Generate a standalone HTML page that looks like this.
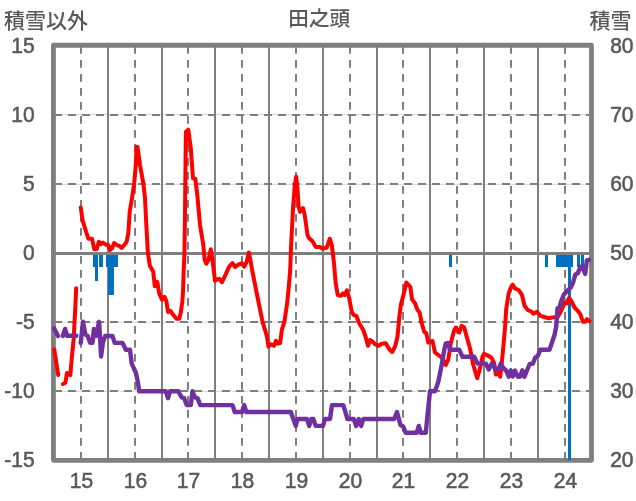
<!DOCTYPE html>
<html lang="ja"><head><meta charset="utf-8"><title>田之頭</title>
<style>html,body{margin:0;padding:0;background:#fff}svg{display:block}</style></head>
<body>
<svg width="636" height="501" viewBox="0 0 636 501">
<rect width="636" height="501" fill="#fff"/>
<line x1="53.43" x2="591.48" y1="114.5" y2="114.5" stroke="#d4d4d4" stroke-width="1"/>
<line x1="54" x2="591.48" y1="115" y2="115" stroke="#7f7f7f" stroke-width="2" stroke-dasharray="8 6"/>
<line x1="53.43" x2="591.48" y1="184.3" y2="184.3" stroke="#d4d4d4" stroke-width="1"/>
<line x1="54" x2="591.48" y1="184" y2="184" stroke="#7f7f7f" stroke-width="2" stroke-dasharray="8 6"/>
<line x1="53.43" x2="591.48" y1="322.3" y2="322.3" stroke="#d4d4d4" stroke-width="1"/>
<line x1="54" x2="591.48" y1="322" y2="322" stroke="#7f7f7f" stroke-width="2" stroke-dasharray="8 6"/>
<line x1="53.43" x2="591.48" y1="391.3" y2="391.3" stroke="#d4d4d4" stroke-width="1"/>
<line x1="54" x2="591.48" y1="391" y2="391" stroke="#7f7f7f" stroke-width="2" stroke-dasharray="8 6"/>
<line x1="81" x2="81" y1="46" y2="460.33" stroke="#7f7f7f" stroke-width="2" stroke-dasharray="7.8 6.2"/>
<line x1="108" x2="108" y1="45.25" y2="460.33" stroke="#7f7f7f" stroke-width="2"/>
<line x1="135" x2="135" y1="46" y2="460.33" stroke="#7f7f7f" stroke-width="2" stroke-dasharray="7.8 6.2"/>
<line x1="162" x2="162" y1="45.25" y2="460.33" stroke="#7f7f7f" stroke-width="2"/>
<line x1="188" x2="188" y1="46" y2="460.33" stroke="#7f7f7f" stroke-width="2" stroke-dasharray="7.8 6.2"/>
<line x1="215" x2="215" y1="45.25" y2="460.33" stroke="#7f7f7f" stroke-width="2"/>
<line x1="242" x2="242" y1="46" y2="460.33" stroke="#7f7f7f" stroke-width="2" stroke-dasharray="7.8 6.2"/>
<line x1="269" x2="269" y1="45.25" y2="460.33" stroke="#7f7f7f" stroke-width="2"/>
<line x1="296" x2="296" y1="46" y2="460.33" stroke="#7f7f7f" stroke-width="2" stroke-dasharray="7.8 6.2"/>
<line x1="323" x2="323" y1="45.25" y2="460.33" stroke="#7f7f7f" stroke-width="2"/>
<line x1="350" x2="350" y1="46" y2="460.33" stroke="#7f7f7f" stroke-width="2" stroke-dasharray="7.8 6.2"/>
<line x1="377" x2="377" y1="45.25" y2="460.33" stroke="#7f7f7f" stroke-width="2"/>
<line x1="403" x2="403" y1="46" y2="460.33" stroke="#7f7f7f" stroke-width="2" stroke-dasharray="7.8 6.2"/>
<line x1="430" x2="430" y1="45.25" y2="460.33" stroke="#7f7f7f" stroke-width="2"/>
<line x1="457" x2="457" y1="46" y2="460.33" stroke="#7f7f7f" stroke-width="2" stroke-dasharray="7.8 6.2"/>
<line x1="484" x2="484" y1="45.25" y2="460.33" stroke="#7f7f7f" stroke-width="2"/>
<line x1="511" x2="511" y1="46" y2="460.33" stroke="#7f7f7f" stroke-width="2" stroke-dasharray="7.8 6.2"/>
<line x1="538" x2="538" y1="45.25" y2="460.33" stroke="#7f7f7f" stroke-width="2"/>
<line x1="565" x2="565" y1="46" y2="460.33" stroke="#7f7f7f" stroke-width="2" stroke-dasharray="7.8 6.2"/>
<rect x="53.43" y="45.25" width="538.05" height="415.08" fill="none" stroke="#7f7f7f" stroke-width="4.8" stroke-linejoin="round"/>
<rect x="93" y="253" width="5.0" height="14.0" fill="#0070c0"/>
<rect x="95" y="253" width="3.0" height="28.0" fill="#0070c0"/>
<rect x="99" y="253" width="4.0" height="14.0" fill="#0070c0"/>
<rect x="106" y="253" width="12.0" height="14.0" fill="#0070c0"/>
<rect x="108" y="253" width="6.0" height="42.0" fill="#0070c0"/>
<rect x="449" y="253" width="3.0" height="14.0" fill="#0070c0"/>
<rect x="545" y="253" width="3.0" height="14.0" fill="#0070c0"/>
<rect x="556" y="253" width="17.0" height="14.0" fill="#0070c0"/>
<rect x="568" y="253" width="3.0" height="207.3" fill="#0070c0"/>
<rect x="577" y="253" width="3.0" height="14.0" fill="#0070c0"/>
<rect x="581" y="253" width="3.0" height="14.0" fill="#0070c0"/>
<line x1="53.43" x2="591.48" y1="253.5" y2="253.5" stroke="#7f7f7f" stroke-width="3"/>
<path d="M54.2,349.3 L58.2,375.1" fill="none" stroke="#ff0000" stroke-width="4" stroke-linejoin="round" stroke-linecap="round"/>
<path d="M62.9,384.1 L65.4,382.8 L67.0,372.9 L70.3,375.1 L71.9,356.5 L73.6,340.0 L75.0,313.3 L76.2,288.3" fill="none" stroke="#ff0000" stroke-width="4" stroke-linejoin="round" stroke-linecap="round"/>
<path d="M80.8,207.5 L82.5,220.0 L85.8,230.8 L88.3,238.7 L92.0,238.7 L94.2,249.2 L96.7,249.2 L98.8,241.7 L100.8,244.2 L103.0,242.5 L105.8,244.7 L108.0,244.7 L110.0,250.0 L112.0,248.3 L114.2,243.0 L116.7,245.0 L119.2,245.8 L121.7,248.0 L124.2,245.0 L126.7,241.7 L128.3,233.3 L129.7,211.7 L131.7,200.0 L134.2,183.3 L135.8,165.0 L136.6,146.7 L137.5,146.7 L140.0,165.0 L143.3,183.3 L145.0,198.0 L146.5,228.3 L147.7,250.0 L148.2,255.0 L149.9,266.0 L153.2,271.5 L154.8,286.3 L157.3,281.9 L159.2,293.4 L162.0,299.6 L164.4,296.8 L166.4,301.2 L168.0,312.0 L170.4,310.8 L173.2,314.8 L176.4,318.8 L179.2,318.8 L180.8,312.4 L182.3,302.0 L183.1,290.0 L183.7,270.0 L184.4,255.0 L185.0,211.7 L185.5,165.0 L185.9,131.7 L188.3,129.7 L190.8,148.3 L193.0,178.3 L195.3,178.8 L197.5,197.0 L200.0,225.0 L203.3,245.0 L204.7,260.0 L206.3,263.8 L208.5,260.0 L210.8,249.2 L212.5,260.0 L215.0,280.8 L219.2,278.7 L222.0,282.2 L225.0,275.8 L229.2,266.7 L232.5,263.0 L235.0,267.0 L238.3,264.7 L241.7,263.3 L244.2,266.7 L246.7,261.7 L248.8,252.5 L250.8,262.0 L252.1,270.0 L257.3,296.0 L262.5,321.6 L266.8,335.8 L268.5,346.7 L271.0,344.2 L274.0,345.8 L276.0,340.8 L278.0,343.7 L280.2,343.0 L281.8,330.0 L284.4,321.6 L287.2,302.9 L288.8,286.5 L290.2,270.0 L291.0,248.0 L293.1,206.7 L294.8,185.0 L296.2,176.7 L297.5,190.0 L298.7,206.7 L300.0,211.7 L303.0,208.0 L304.7,215.0 L307.5,235.0 L309.2,238.3 L312.5,241.3 L315.8,247.0 L320.0,247.0 L322.7,248.7 L326.8,247.5 L329.8,238.7 L331.8,245.0 L334.0,263.3 L335.7,283.3 L337.7,295.0 L341.0,295.8 L343.0,293.3 L344.7,295.0 L347.0,290.3 L349.2,298.3 L351.7,311.7 L353.7,315.0 L356.3,315.8 L359.2,323.3 L363.3,330.0 L365.8,337.5 L368.0,345.8 L370.0,340.0 L372.5,341.7 L375.0,344.2 L378.7,345.8 L381.7,343.7 L385.8,343.3 L389.2,349.2 L392.2,352.0 L395.0,346.7 L397.5,336.7 L399.2,318.3 L400.8,305.0 L404.2,292.0 L406.3,282.5 L410.4,287.0 L412.0,299.2 L415.0,303.3 L417.5,310.0 L419.7,312.5 L421.7,323.3 L424.2,331.7 L426.3,333.3 L428.3,342.5 L432.5,341.0 L435.0,352.5 L438.3,355.0 L441.7,357.5 L445.8,365.0 L448.3,359.2 L450.8,343.3 L454.2,330.0 L455.8,327.5 L459.2,332.5 L461.7,325.8 L464.2,327.5 L466.7,336.7 L470.0,348.3 L473.3,365.0 L477.2,378.3 L480.0,368.3 L482.5,356.7 L484.2,353.7 L488.3,355.8 L491.7,358.0 L494.2,363.3 L495.8,374.5 L498.0,373.0 L500.2,376.7 L501.5,366.0 L503.5,345.0 L505.0,328.0 L506.2,309.0 L508.7,293.3 L511.2,286.7 L512.8,284.7 L515.3,288.7 L518.7,290.0 L522.0,295.0 L524.5,305.8 L527.8,310.0 L531.2,311.3 L533.3,313.7 L537.0,311.7 L540.3,315.8 L544.5,317.0 L548.7,318.3 L552.0,317.5 L557.8,317.0 L561.2,310.8 L564.5,302.5 L567.0,303.3 L569.0,298.0 L571.2,300.8 L574.5,307.5 L577.8,310.8 L580.3,314.2 L582.8,321.7 L585.3,321.7 L587.0,319.2 L589.5,321.3" fill="none" stroke="#ff0000" stroke-width="4" stroke-linejoin="round" stroke-linecap="round"/>
<path d="M54.2,328.4 L58.0,336.0" fill="none" stroke="#7030a0" stroke-width="4.4" stroke-linejoin="round" stroke-linecap="round"/>
<path d="M62.7,336.0 L65.1,328.9 L67.0,335.8 L76.4,335.8" fill="none" stroke="#7030a0" stroke-width="4.4" stroke-linejoin="round" stroke-linecap="round"/>
<path d="M80.7,342.9 L83.0,321.8 L85.4,334.5 L87.7,336.0 L90.1,342.9 L92.5,342.9 L93.9,328.9 L96.2,336.0 L99.1,321.8 L100.1,338.3 L101.1,356.5 L103.0,342.0 L105.2,336.0 L112.5,336.0 L114.7,342.9 L122.5,342.9 L125.8,349.8 L130.0,349.8 L131.7,363.6 L135.8,372.5 L137.5,380.0 L139.2,391.3 L165.8,391.3 L168.0,398.2 L170.0,391.3 L178.3,391.3 L181.7,397.5 L184.2,398.2 L186.7,405.1 L190.8,405.1 L192.5,391.3 L195.0,397.5 L197.5,398.2 L200.3,405.1 L232.5,405.1 L234.7,412.0 L242.0,412.0 L244.2,405.1 L246.3,412.0 L290.8,412.0 L293.3,419.0 L295.8,425.9 L297.5,419.0 L307.0,419.0 L309.2,425.9 L311.3,419.0 L313.3,419.0 L315.8,425.9 L323.0,425.9 L325.0,419.0 L330.0,419.0 L332.0,405.1 L343.3,405.1 L347.5,419.0 L353.7,419.0 L356.2,425.9 L358.7,419.0 L361.2,425.9 L363.3,419.0 L394.2,419.0 L397.0,412.0 L400.5,425.0 L403.2,426.5 L405.8,432.8 L416.7,432.8 L418.8,425.9 L420.8,432.8 L425.8,432.8 L427.5,415.0 L430.0,391.3 L435.0,391.3 L438.3,381.7 L441.7,365.0 L444.2,350.0 L445.8,343.3 L448.0,342.9 L450.0,349.8 L459.2,349.8 L462.5,356.7 L474.2,356.7 L477.5,363.6 L485.8,363.6 L488.8,369.5 L491.7,363.6 L493.3,364.2 L495.3,369.7 L498.3,369.7 L500.8,363.6 L502.8,367.5 L506.2,370.6 L508.7,376.7 L510.7,370.6 L512.8,376.5 L515.0,370.6 L517.8,376.7 L520.3,376.5 L522.3,370.3 L524.5,376.7 L529.5,364.2 L532.8,363.6 L535.3,357.5 L537.8,355.8 L540.3,349.8 L549.5,349.8 L554.5,335.0 L556.2,326.7 L557.5,308.3 L559.5,307.5 L561.4,300.5 L563.9,294.5 L567.6,290.5 L570.9,287.4 L573.1,282.3 L575.3,274.6 L578.0,273.0 L580.2,266.6 L582.4,266.6 L585.2,274.0 L586.8,260.4 L589.0,259.8" fill="none" stroke="#7030a0" stroke-width="4.4" stroke-linejoin="round" stroke-linecap="round"/>
<g font-family="'Liberation Sans','Noto Sans CJK JP',sans-serif" font-size="21" fill="#595959" stroke="#595959" stroke-width="0.55">
<text transform="translate(34.6,52.5) scale(1,1.06)" text-anchor="end">15</text>
<text transform="translate(34.6,121.5) scale(1,1.06)" text-anchor="end">10</text>
<text transform="translate(34.6,190.5) scale(1,1.06)" text-anchor="end">5</text>
<text transform="translate(34.6,259.5) scale(1,1.06)" text-anchor="end">0</text>
<text transform="translate(34.6,328.5) scale(1,1.06)" text-anchor="end">-5</text>
<text transform="translate(34.6,397.5) scale(1,1.06)" text-anchor="end">-10</text>
<text transform="translate(34.6,466.5) scale(1,1.06)" text-anchor="end">-15</text>
<text transform="translate(610.2,52.5) scale(1,1.06)">80</text>
<text transform="translate(610.2,121.5) scale(1,1.06)">70</text>
<text transform="translate(610.2,190.5) scale(1,1.06)">60</text>
<text transform="translate(610.2,259.5) scale(1,1.06)">50</text>
<text transform="translate(610.2,328.5) scale(1,1.06)">40</text>
<text transform="translate(610.2,397.5) scale(1,1.06)">30</text>
<text transform="translate(610.2,466.5) scale(1,1.06)">20</text>
<text transform="translate(81.4,487.7) scale(1,1.06)" text-anchor="middle">15</text>
<text transform="translate(135.4,487.7) scale(1,1.06)" text-anchor="middle">16</text>
<text transform="translate(188.4,487.7) scale(1,1.06)" text-anchor="middle">17</text>
<text transform="translate(242.4,487.7) scale(1,1.06)" text-anchor="middle">18</text>
<text transform="translate(296.4,487.7) scale(1,1.06)" text-anchor="middle">19</text>
<text transform="translate(350.4,487.7) scale(1,1.06)" text-anchor="middle">20</text>
<text transform="translate(403.4,487.7) scale(1,1.06)" text-anchor="middle">21</text>
<text transform="translate(457.4,487.7) scale(1,1.06)" text-anchor="middle">22</text>
<text transform="translate(511.4,487.7) scale(1,1.06)" text-anchor="middle">23</text>
<text transform="translate(565.4,487.7) scale(1,1.06)" text-anchor="middle">24</text>
</g>
<g font-family="'Liberation Sans','Noto Sans CJK JP',sans-serif" font-size="21" font-weight="500" fill="#595959">
<text x="4" y="27.6">積雪以外</text>
<text x="319.2" y="26.3" font-size="20.6" text-anchor="middle">田之頭</text>
<text x="589.5" y="27.6">積雪</text>
</g>
</svg>
</body></html>
